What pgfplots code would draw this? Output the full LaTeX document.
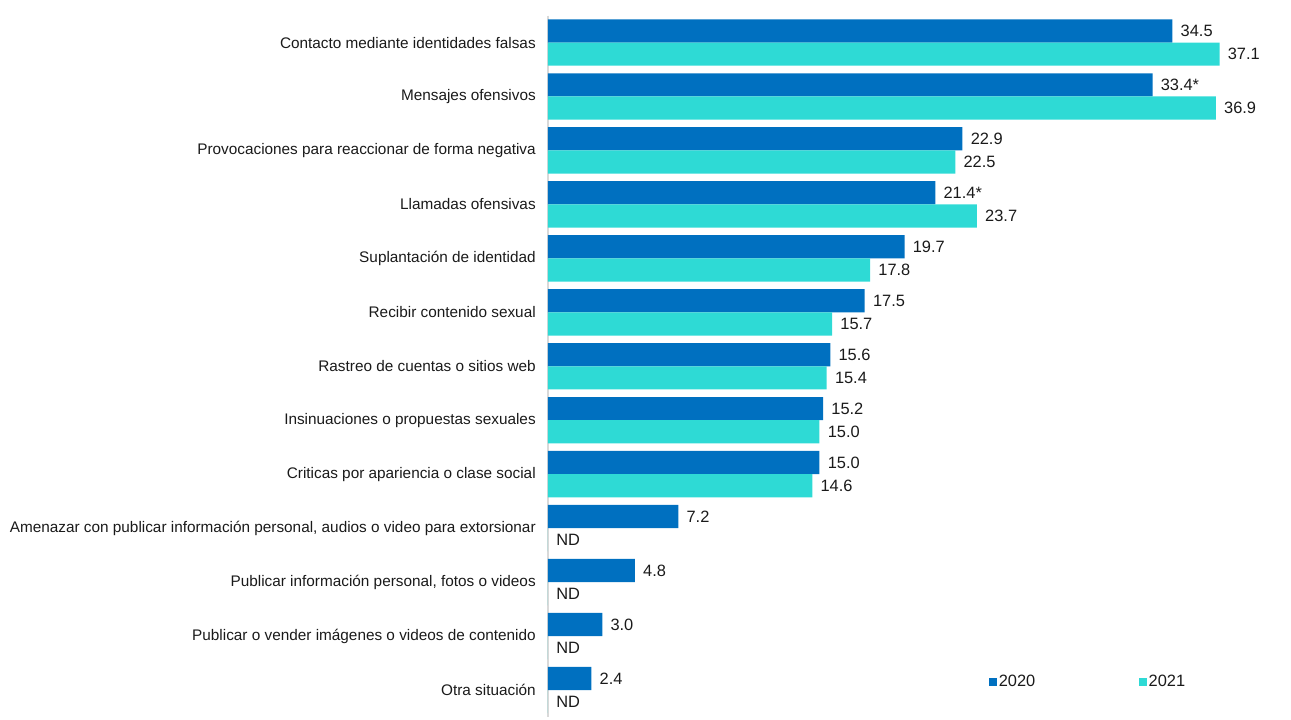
\documentclass[border=0pt]{standalone}
\usepackage{pgfplots}
\pgfplotsset{compat=1.18}
\usepackage{pgfplotstable}
\usepackage{fontspec}
\setmainfont{Liberation Sans}
\definecolor{c20}{HTML}{0070C0}
\definecolor{c21}{HTML}{2EDAD5}
\definecolor{txt}{HTML}{1A1A1A}
\pgfplotstableread{
y v20 l20 v21 l21
0 34.5 34.5 37.1 37.1
1 33.4 33.4* 36.9 36.9
2 22.9 22.9 22.5 22.5
3 21.4 21.4* 23.7 23.7
4 19.7 19.7 17.8 17.8
5 17.5 17.5 15.7 15.7
6 15.6 15.6 15.4 15.4
7 15.2 15.2 15.0 15.0
8 15.0 15.0 14.6 14.6
9 7.2 7.2 0 ND
10 4.8 4.8 0 ND
11 3.0 3.0 0 ND
12 2.4 2.4 0 ND
}\datatable
\begin{document}
\begin{tikzpicture}
\begin{axis}[
  at={(0,0)}, anchor=south west,
  scale only axis, width=543pt, height=526.1pt,
  xbar, bar width=0.43,
  xmin=0, xmax=40, ymin=-0.5, ymax=12.5, y dir=reverse,
  axis x line=none, axis y line*=left,
  y axis line style={draw=black!15, line width=1pt},
  ytick={0,...,12}, major tick length=0pt,
  yticklabels={Contacto mediante identidades falsas,
    Mensajes ofensivos,
    Provocaciones para reaccionar de forma negativa,
    Llamadas ofensivas,
    Suplantación de identidad,
    Recibir contenido sexual,
    Rastreo de cuentas o sitios web,
    Insinuaciones o propuestas sexuales,
    Criticas por apariencia o clase social,
    {Amenazar con publicar información personal, audios o video para extorsionar},
    {Publicar información personal, fotos o videos},
    Publicar o vender imágenes o videos de contenido,
    Otra situación},
  yticklabel style={font=\fontsize{11.5pt}{13pt}\selectfont, text=txt, inner sep=0pt, xshift=-9pt},
  point meta=explicit symbolic,
  nodes near coords,
  every node near coord/.append style={font=\fontsize{12.3pt}{14pt}\selectfont, text=txt, anchor=west, inner sep=0pt, xshift=6pt},
  legend columns=2,
  legend image code/.code={\fill[#1] (0pt,-3pt) rectangle (6pt,3pt);},
  legend style={at={(0.603,0.05)}, anchor=west, draw=none, fill=none,
    font=\fontsize{12.3pt}{14pt}\selectfont, text=txt,
    nodes={inner sep=1.5pt},
    /tikz/every even column/.append style={column sep=76pt}},
]
\addplot[fill=c20, draw=none, bar shift=-0.215] table[x=v20, y=y, meta=l20] {\datatable};
\addplot[fill=c21, draw=none, bar shift=0.215] table[x=v21, y=y, meta=l21] {\datatable};
\legend{2020,2021}
\end{axis}
\pgfresetboundingbox
\useasboundingbox (-411pt,-1.5pt) rectangle (557.25pt,537.75pt);
\end{tikzpicture}
\end{document}
